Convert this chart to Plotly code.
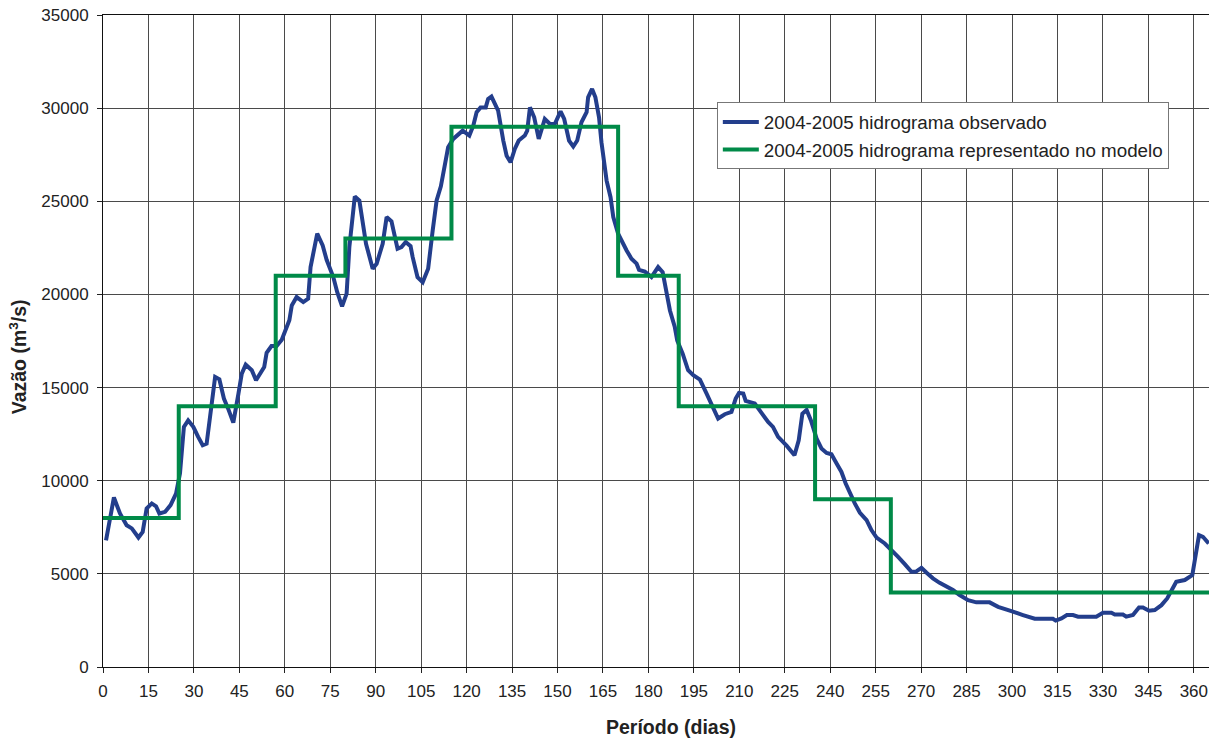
import plotly.graph_objects as go

obs_day = [1, 3.6, 5.6, 7.8, 9.5, 11.7, 13.1, 14.4, 16.1, 17.5, 18.6, 20.5, 22.3, 24.1, 25.4, 26.7, 28.1, 29.8, 31.4, 32.9,
           34.2, 37, 38.4, 39.9, 41.3, 43, 44.7, 45.8, 47.1, 49.1, 50.5, 51.8, 53.2, 54, 55.6, 57.3, 59, 61.5, 62.3, 63.9,
           66.1, 67.7, 68.5, 70.7, 72.5, 73.8, 76, 77.3, 78.9, 80.4, 81.3, 83.1, 84.6, 86.8, 89, 90.3, 92.3, 93.6, 95.2, 97.2,
           98.5, 99.9, 101.5, 102.2, 103.8, 105.5, 107.3, 108.8, 110.1, 111.5, 113.9, 115.6, 117.2, 118.7, 120.9, 122.2, 123.3, 124.6, 126.3, 127.1,
           128.2, 130.4, 132.1, 133.2, 134.5, 135.9, 137.2, 139.2, 140, 140.9, 142.3, 143.8, 145.8, 147.5, 149.1, 151, 152.2, 153.8, 155.2, 156.5,
           157.9, 159.6, 160.1, 161.4, 162.5, 163.7, 164.5, 165.6, 166.2, 167.5, 168.4, 170, 171.5, 172.8, 174.4, 176.1, 176.9, 178.8, 181, 183.2,
           184.7, 185.7, 187.1, 188.7, 189.5, 191.3, 193.1, 194.8, 197, 199.2, 201.4, 203, 205.2, 207.4, 208.8, 209.9, 211.3, 212.1, 215.1, 217.3,
           219.5, 221.1, 222.8, 225.6, 228.2, 229.6, 230.8, 232.2, 233.6, 235.5, 237.1, 238.8, 240.4, 242.1, 243.7, 245.1, 246.5, 248.1, 249.8, 252,
           253.6, 255.3, 258, 259.7, 262.4, 264.6, 266.8, 268.2, 270.1, 271.8, 273.9, 276.1, 278.4, 280.5, 282.7, 285.5, 288.2, 292.6, 295.4, 298.1,
           300.3, 303.6, 307.5, 313.5, 314.4, 316.3, 318.1, 320.1, 321.8, 327.8, 330, 332.8, 333.9, 336.6, 337.7, 339.9, 341.9, 343.2, 345.2, 347.1,
           349.3, 351.2, 352.6, 354.2, 357, 359.5, 361.7, 363, 364.9]
obs_flow = [6800, 9100, 8240, 7610, 7440, 6950, 7250, 8510, 8780, 8630, 8240, 8330, 8690, 9310, 10390, 12890, 13240, 12890, 12350, 11900,
            11990, 15570, 15440, 14410, 13870, 13120, 14680, 15750, 16230, 15930, 15390, 15780, 16100, 16870, 17230, 17230, 17570, 18610, 19410, 19860,
            19590, 19770, 21470, 23260, 22630, 21860, 20930, 20120, 19360, 20040, 22540, 25260, 25040, 22720, 21380, 21650, 22720, 24150, 23930, 22450,
            22540, 22810, 22590, 22000, 20930, 20660, 21380, 23430, 25040, 25800, 27900, 28350, 28580, 28790, 28530, 29060, 29780, 30040, 30040, 30490,
            30620, 29870, 28260, 27450, 27090, 27810, 28260, 28530, 28790, 30040, 29510, 28350, 29420, 29150, 29150, 29830, 29420, 28260, 27940, 28260,
            29240, 29780, 30580, 31030, 30580, 29510, 28170, 27010, 26110, 25220, 24150, 23260, 22720, 22360, 21920, 21650, 21320, 21230, 20930, 21470,
            21200, 20390, 19140, 18250, 17530, 16820, 15930, 15660, 15430, 14680, 13870, 13340, 13570, 13690, 14410, 14710, 14680, 14280, 14140, 13640,
            13150, 12890, 12350, 11880, 11370, 12170, 13600, 13800, 13250, 12260, 11730, 11490, 11420, 10920, 10470, 9850, 9310, 8780, 8280, 7880,
            7350, 6950, 6630, 6370, 5910, 5520, 5110, 5110, 5320, 5060, 4760, 4520, 4340, 4130, 3860, 3590, 3470, 3470, 3230, 3060,
            2970, 2790, 2590, 2590, 2490, 2610, 2790, 2790, 2700, 2700, 2910, 2910, 2820, 2820, 2700, 2790, 3200, 3200, 3020, 3060,
            3320, 3680, 4130, 4570, 4670, 4930, 7080, 6990, 6630]
assert len(obs_day) == len(obs_flow)

# Model (step) hydrograph: start day of each step and its flow
model_day = [0, 25, 57, 80, 115, 170, 190, 235, 260, 365]
model_flow = [8000, 14000, 21000, 23000, 29000, 21000, 14000, 9000, 4000, 4000]

x_ticks = list(range(0, 361, 15))
y_ticks = list(range(0, 35001, 5000))
y_ticklabels = [str(v) for v in y_ticks]

BLUE = "#233E8C"
GREEN = "#008A48"
FONT = "Liberation Sans, Arial, sans-serif"
TXT = "#222222"

fig = go.Figure()
fig.add_trace(go.Scatter(x=obs_day, y=obs_flow, mode="lines",
                         name="2004-2005 hidrograma observado",
                         line=dict(color=BLUE, width=4)))
fig.add_trace(go.Scatter(x=model_day, y=model_flow, mode="lines", line_shape="hv",
                         name="2004-2005 hidrograma representado no modelo",
                         line=dict(color=GREEN, width=4)))

fig.update_layout(
    width=1209, height=739,
    margin=dict(l=103, r=0, t=15, b=72, autoexpand=False),
    paper_bgcolor="white", plot_bgcolor="white",
    font=dict(family=FONT, color=TXT, size=17),
    showlegend=True,
    legend=dict(x=0.555, y=0.866, xanchor="left", yanchor="top",
                bgcolor="white", bordercolor="#777777", borderwidth=1,
                font=dict(family=FONT, size=18.8, color=TXT),
                tracegroupgap=0, itemwidth=36),
    annotations=[
        dict(text="<b>Período (dias)</b>", xref="paper", yref="paper", x=0.5136, y=0,
             yshift=-60, xanchor="center", yanchor="middle", showarrow=False,
             font=dict(family=FONT, size=19.5, color=TXT)),
        dict(text="<b>Vazão (m<sup>3</sup>/s)</b>", xref="paper", yref="paper", x=0, y=0.475,
             xshift=-85, xanchor="center", yanchor="middle", textangle=-90, showarrow=False,
             font=dict(family=FONT, size=19.5, color=TXT)),
    ],
)
fig.update_xaxes(range=[0, 365], tickvals=x_ticks, ticks="outside", ticklen=5, tickcolor=TXT,
                 ticklabelstandoff=4,
                 showgrid=True, gridcolor="#4a4a4a", gridwidth=1,
                 showline=True, linecolor="#111111", linewidth=1, mirror=True,
                 zeroline=False,
                 tickfont=dict(family=FONT, size=17, color=TXT))
fig.update_yaxes(range=[0, 35000], tickvals=y_ticks, ticktext=y_ticklabels, ticks="outside", ticklen=5, tickcolor=TXT,
                 ticklabelstandoff=5,
                 showgrid=True, gridcolor="#4a4a4a", gridwidth=1,
                 showline=True, linecolor="#111111", linewidth=1,
                 zeroline=False,
                 tickfont=dict(family=FONT, size=17, color=TXT))

fig.write_html("out.html", config={"displayModeBar": False},
               post_script="document.body.style.margin='0';document.body.style.overflow='hidden';")
